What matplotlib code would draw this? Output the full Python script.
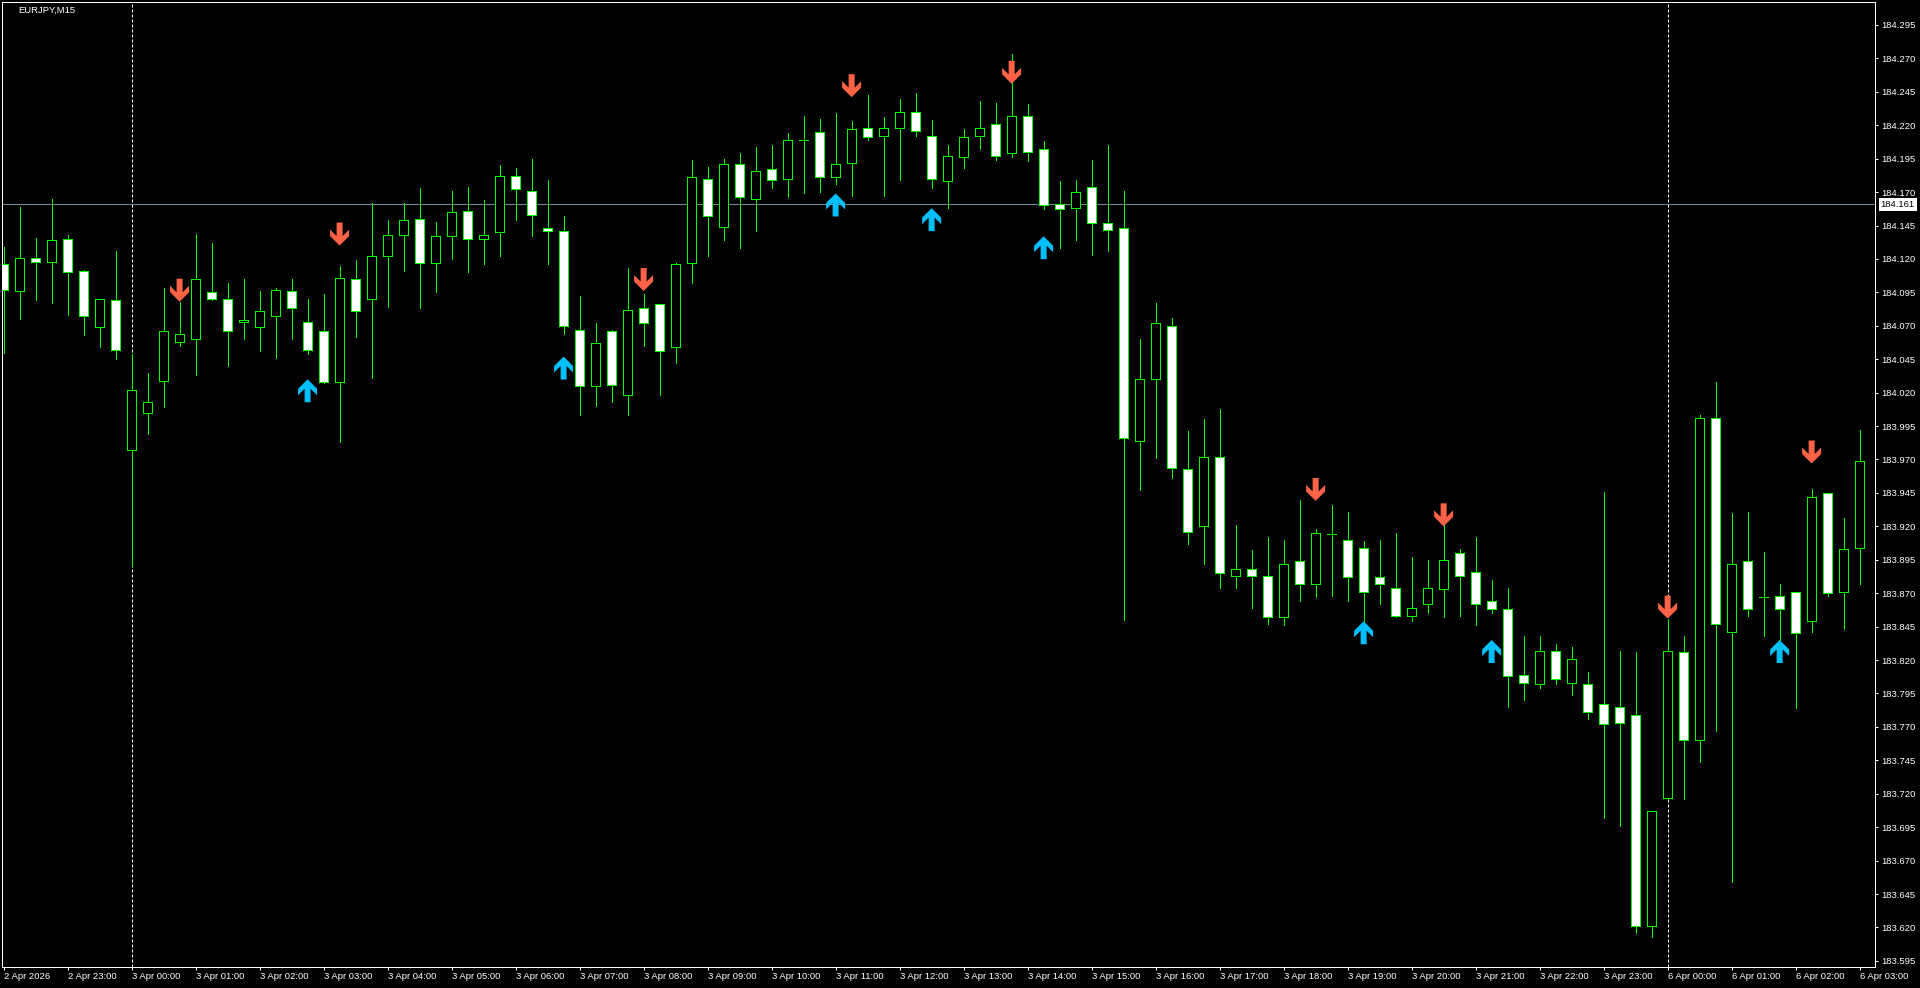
import numpy as np
import matplotlib
matplotlib.use('Agg')
import matplotlib.pyplot as plt
from matplotlib.patches import Rectangle, Polygon
from matplotlib.transforms import offset_copy

plt.rcParams['font.family'] = ['Liberation Sans', 'DejaVu Sans']

# EURJPY M15, 2 Apr 22:00 -> 6 Apr 03:00 (117 bars)
opens = [184.116, 184.096, 184.121, 184.118, 184.135, 184.111, 184.069, 184.089, 183.977, 184.005,
         184.029, 184.058, 184.060, 184.095, 184.090, 184.073, 184.069, 184.077, 184.096, 184.073,
         184.066, 184.028, 184.105, 184.090, 184.122, 184.138, 184.150, 184.117, 184.137, 184.156,
         184.135, 184.140, 184.182, 184.171, 184.143, 184.141, 184.067, 184.025, 184.066, 184.018,
         184.083, 184.086, 184.054, 184.117, 184.180, 184.144, 184.191, 184.165, 184.187, 184.180,
         184.209, 184.215, 184.181, 184.192, 184.218, 184.212, 184.218, 184.230, 184.212, 184.178,
         184.196, 184.212, 184.221, 184.199, 184.227, 184.202, 184.161, 184.158, 184.174, 184.147,
         184.143, 183.984, 184.030, 184.070, 183.963, 183.920, 183.972, 183.883, 183.888, 183.883,
         183.852, 183.894, 183.877, 183.914, 183.910, 183.904, 183.882, 183.874, 183.853, 183.862,
         183.873, 183.900, 183.886, 183.864, 183.858, 183.809, 183.802, 183.827, 183.803, 183.802,
         183.787, 183.785, 183.779, 183.621, 183.717, 183.826, 183.760, 184.001, 183.841, 183.894,
         183.867, 183.868, 183.871, 183.849, 183.945, 183.871, 183.904]
highs = [184.129, 184.159, 184.136, 184.165, 184.138, 184.112, 184.090, 184.126, 184.049, 184.035,
         184.098, 184.088, 184.139, 184.132, 184.102, 184.105, 184.096, 184.098, 184.105, 184.090,
         184.094, 184.115, 184.119, 184.162, 184.149, 184.162, 184.173, 184.148, 184.171, 184.174,
         184.164, 184.190, 184.188, 184.195, 184.179, 184.152, 184.092, 184.072, 184.067, 184.113,
         184.094, 184.086, 184.117, 184.194, 184.189, 184.195, 184.199, 184.204, 184.205, 184.214,
         184.227, 184.225, 184.229, 184.223, 184.243, 184.226, 184.240, 184.244, 184.224, 184.205,
         184.217, 184.238, 184.237, 184.273, 184.236, 184.208, 184.178, 184.179, 184.194, 184.205,
         184.171, 184.060, 184.087, 184.076, 183.991, 184.000, 184.008, 183.921, 183.902, 183.912,
         183.910, 183.940, 183.918, 183.936, 183.931, 183.909, 183.910, 183.915, 183.897, 183.895,
         183.921, 183.903, 183.912, 183.880, 183.874, 183.838, 183.838, 183.832, 183.830, 183.811,
         183.946, 183.827, 183.826, 183.707, 183.851, 183.838, 184.003, 184.028, 183.930, 183.931,
         183.901, 183.877, 183.871, 183.948, 183.945, 183.926, 183.992]
lows = [184.050, 184.075, 184.089, 184.087, 184.078, 184.063, 184.054, 184.045, 183.890, 183.989,
        184.009, 184.055, 184.033, 184.089, 184.040, 184.060, 184.051, 184.046, 184.060, 184.049,
        184.027, 183.983, 184.062, 184.031, 184.084, 184.111, 184.083, 184.095, 184.120, 184.110,
        184.116, 184.122, 184.149, 184.137, 184.116, 184.064, 184.003, 184.010, 184.013, 184.003,
        184.055, 184.018, 184.042, 184.102, 184.122, 184.134, 184.128, 184.141, 184.173, 184.166,
        184.169, 184.170, 184.176, 184.167, 184.209, 184.167, 184.179, 184.212, 184.173, 184.158,
        184.188, 184.202, 184.194, 184.196, 184.193, 184.157, 184.128, 184.134, 184.123, 184.126,
        183.850, 183.947, 183.971, 183.956, 183.907, 183.892, 183.874, 183.874, 183.859, 183.847,
        183.846, 183.864, 183.867, 183.868, 183.864, 183.849, 183.862, 183.852, 183.849, 183.855,
        183.852, 183.853, 183.846, 183.855, 183.785, 183.790, 183.799, 183.802, 183.794, 183.776,
        183.702, 183.696, 183.616, 183.613, 183.716, 183.716, 183.744, 183.767, 183.654, 183.853,
        183.838, 183.835, 183.784, 183.841, 183.868, 183.843, 183.877]
closes = [184.097, 184.121, 184.118, 184.134, 184.110, 184.077, 184.090, 184.052, 184.022, 184.013,
          184.066, 184.064, 184.105, 184.090, 184.066, 184.074, 184.081, 184.097, 184.083, 184.052,
          184.028, 184.106, 184.081, 184.122, 184.138, 184.149, 184.117, 184.137, 184.155, 184.135,
          184.138, 184.182, 184.172, 184.153, 184.141, 184.070, 184.025, 184.057, 184.026, 184.082,
          184.072, 184.051, 184.116, 184.181, 184.152, 184.191, 184.166, 184.186, 184.179, 184.209,
          184.209, 184.181, 184.191, 184.217, 184.211, 184.218, 184.230, 184.216, 184.180, 184.197,
          184.211, 184.218, 184.197, 184.227, 184.200, 184.160, 184.157, 184.170, 184.147, 184.142,
          183.986, 184.030, 184.072, 183.964, 183.916, 183.972, 183.885, 183.888, 183.883, 183.852,
          183.892, 183.877, 183.915, 183.914, 183.882, 183.871, 183.877, 183.853, 183.859, 183.874,
          183.895, 183.883, 183.862, 183.858, 183.808, 183.803, 183.827, 183.806, 183.821, 183.781,
          183.772, 183.773, 183.621, 183.707, 183.827, 183.760, 184.001, 183.847, 183.892, 183.858,
          183.867, 183.858, 183.840, 183.942, 183.870, 183.903, 183.969]

time_labels = ["2 Apr 2026", "2 Apr 23:00",
               "3 Apr 00:00", "3 Apr 01:00", "3 Apr 02:00", "3 Apr 03:00", "3 Apr 04:00", "3 Apr 05:00",
               "3 Apr 06:00", "3 Apr 07:00", "3 Apr 08:00", "3 Apr 09:00", "3 Apr 10:00", "3 Apr 11:00",
               "3 Apr 12:00", "3 Apr 13:00", "3 Apr 14:00", "3 Apr 15:00", "3 Apr 16:00", "3 Apr 17:00",
               "3 Apr 18:00", "3 Apr 19:00", "3 Apr 20:00", "3 Apr 21:00", "3 Apr 22:00", "3 Apr 23:00",
               "6 Apr 00:00", "6 Apr 01:00", "6 Apr 02:00", "6 Apr 03:00"]

# indicator arrows (bar index, tip price)
sell_idx = [11, 21, 40, 53, 63, 82, 90, 104, 113]
sell_tip = [184.088, 184.130, 184.096, 184.241, 184.251, 183.939, 183.920, 183.851, 183.967]
buy_idx = [19, 35, 52, 58, 65, 85, 93, 111]
buy_tip = [184.030, 184.047, 184.169, 184.158, 184.137, 183.849, 183.835, 183.835]

bid_price = 184.161
day_separators = [8, 104]

GREEN = '#00ff00'
PX = 0.72  # one pixel in points at dpi 100

fig = plt.figure(figsize=(19.2, 9.88), dpi=100, facecolor='black')
ax = fig.add_axes([2 / 1920, 21 / 988, 1873 / 1920, 965 / 988])
ax.set_facecolor('black')
ax.set_xlim(-0.1, 116.96)
ax.set_ylim(183.5904, 184.3122)

for s in ax.spines.values():
    s.set_color('white')
    s.set_linewidth(PX)

n = len(opens)
x = np.arange(n)

for i in day_separators:
    ax.axvline(i, color='white', lw=PX, linestyle=(0, (3, 2)), zorder=1)
ax.axhline(bid_price, color='#778899', lw=PX, zorder=2)

ax.vlines(x, lows, highs, colors=GREEN, lw=PX, zorder=3, antialiased=False)
bw = 0.5625
for i in range(n):
    o, c = opens[i], closes[i]
    face = 'white' if c < o else 'black'
    ax.add_patch(Rectangle((i - bw / 2, min(o, c)), bw, abs(c - o), facecolor=face,
                           edgecolor=GREEN, lw=PX, zorder=4, antialiased=False))

# arrows drawn in pixel units
xpp = (ax.get_xlim()[1] - ax.get_xlim()[0]) / 1873
ypp = (ax.get_ylim()[1] - ax.get_ylim()[0]) / 965
shape = [(0, 0), (9.5, 9.5), (9.5, 16), (3, 9.5), (3, 23), (-3, 23), (-3, 9.5), (-9.5, 16), (-9.5, 9.5)]
for i, p in zip(sell_idx, sell_tip):
    pts = [(i + dx * xpp, p + dy * ypp) for dx, dy in shape]
    ax.add_patch(Polygon(pts, closed=True, facecolor='#ff6347', edgecolor='none', zorder=5))
for i, p in zip(buy_idx, buy_tip):
    pts = [(i + dx * xpp, p - dy * ypp) for dx, dy in shape]
    ax.add_patch(Polygon(pts, closed=True, facecolor='#00bfff', edgecolor='none', zorder=5))

# price axis
yt = np.round(np.arange(183.595, 184.3, 0.025), 3)
ax.yaxis.tick_right()
ax.set_yticks(yt)
ax.set_yticklabels(['%.3f' % v for v in yt])
ax.tick_params(axis='y', colors='white', length=3 * PX, width=PX, pad=2.4, labelsize=6.8)

# time axis
ax.set_xticks(range(0, n, 4))
ax.set_xticklabels(time_labels, ha='left')
ax.tick_params(axis='x', colors='white', length=3 * PX, width=PX, pad=1.5, labelsize=6.8)

# current price tag
ax.text(1.0, bid_price, '%.3f' % bid_price, color='black', fontsize=6.8, ha='left', va='center',
        transform=offset_copy(ax.get_yaxis_transform(), fig, x=5.7, y=0, units='dots'),
        bbox=dict(boxstyle='square,pad=0.2', facecolor='white', edgecolor='none'), zorder=10,
        clip_on=False)

fig.text(18 / 1920, 1 - 10.5 / 988, 'EURJPY,M15', color='white', fontsize=6.8, ha='left', va='center')

fig.savefig('out.png', dpi=100, facecolor='black')
